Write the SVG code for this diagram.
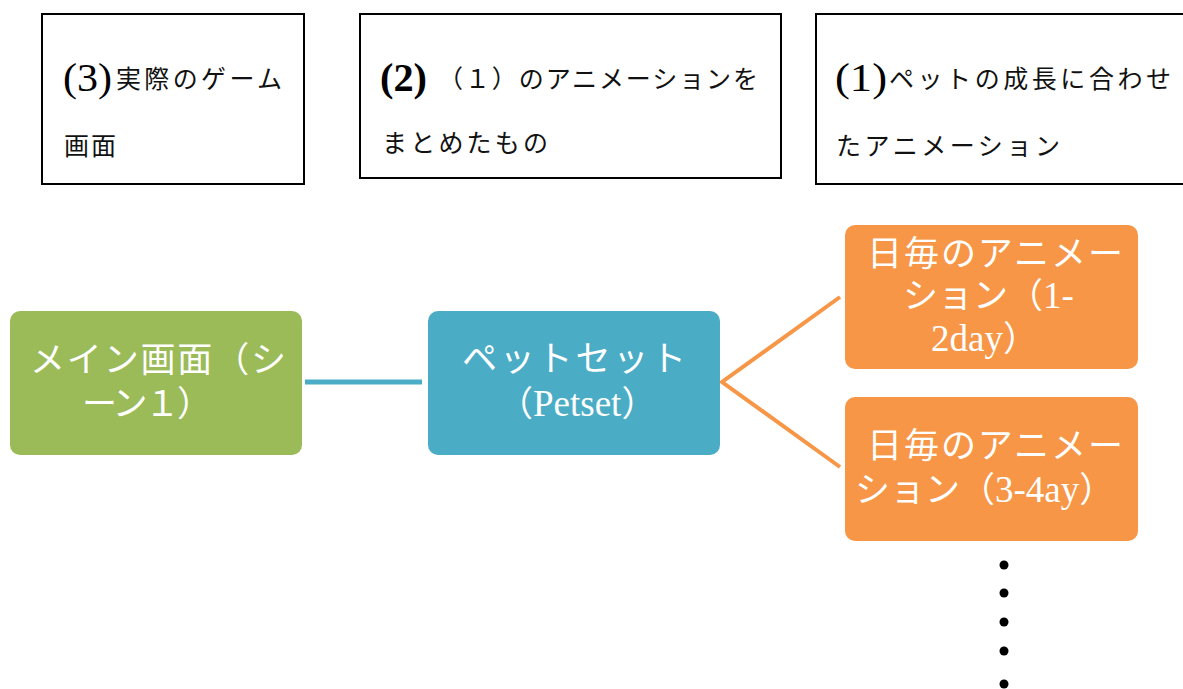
<svg xmlns="http://www.w3.org/2000/svg" width="1183" height="689" viewBox="0 0 1183 689">
<style>
.note{fill:#fff;stroke:#000;stroke-width:2}
.num{font-family:"Liberation Serif","Noto Sans CJK JP",serif;font-size:40px;fill:#000}
.jp{font-family:"Liberation Serif","Noto Sans CJK JP",serif;font-size:25px;fill:#111}
.lbl{font-family:"Liberation Serif","Noto Sans CJK JP",serif;font-size:35px;fill:#fff}
.lat{font-size:37px}
</style>
<rect width="1183" height="689" fill="#fff"/>
<g id="note3">
<rect class="note" x="42" y="14" width="262" height="170"/>
<text class="num" x="63" y="91" textLength="49" lengthAdjust="spacingAndGlyphs">(3)</text>
<text class="jp" x="116" y="88" textLength="166">実際のゲーム</text>
<text class="jp" x="64" y="155" textLength="52">画面</text>
</g>
<g id="note2">
<rect class="note" x="360" y="14" width="421" height="164"/>
<text class="num" x="380" y="91" font-weight="bold" textLength="47" lengthAdjust="spacingAndGlyphs">(2)</text>
<text class="jp" x="438" y="88" textLength="320">（１）のアニメーションを</text>
<text class="jp" x="382" y="152" textLength="166">まとめたもの</text>
</g>
<g id="note1">
<rect class="note" x="816" y="14" width="380" height="170"/>
<text class="num" x="835" y="91" textLength="52" lengthAdjust="spacingAndGlyphs">(1)</text>
<text class="jp" x="889" y="88" textLength="282">ペットの成長に合わせ</text>
<text class="jp" x="836" y="155" textLength="224">たアニメーション</text>
</g>
<g id="connectors">
<line x1="305" y1="382" x2="422" y2="382" stroke="#4BACC6" stroke-width="5"/>
<polyline points="840,297 722,382 840,467" fill="none" stroke="#F79646" stroke-width="4"/>
</g>
<g id="main">
<rect x="10" y="311" width="292" height="144" rx="10" fill="#9BBB59"/>
<text class="lbl" x="30" y="372" textLength="256">メイン画面（シ</text>
<text class="lbl" x="82" y="416" textLength="130">ーン１）</text>
</g>
<g id="petset">
<rect x="428" y="311" width="292" height="144" rx="10" fill="#4BACC6"/>
<text class="lbl" x="462" y="371" textLength="224">ペットセット</text>
<text class="lbl" x="498" y="416">（<tspan class="lat">Petset</tspan>）</text>
</g>
<g id="anim1">
<rect x="845" y="225" width="293" height="144" rx="10" fill="#F79646"/>
<text class="lbl" x="867" y="266" textLength="256">日毎のアニメー</text>
<text class="lbl" x="903" y="308">ション（<tspan class="lat">1-</tspan></text>
<text class="lbl" x="931" y="351"><tspan class="lat">2day</tspan>）</text>
</g>
<g id="anim2">
<rect x="845" y="397" width="293" height="144" rx="10" fill="#F79646"/>
<text class="lbl" x="867" y="458" textLength="256">日毎のアニメー</text>
<text class="lbl" x="855" y="502">ション（<tspan class="lat">3-4ay</tspan>）</text>
</g>
<g id="ellipsis" fill="#000">
<circle cx="1004" cy="565" r="4.5"/>
<circle cx="1004" cy="593" r="4.5"/>
<circle cx="1004" cy="622" r="4.5"/>
<circle cx="1004" cy="651" r="4.5"/>
<circle cx="1004" cy="684" r="4.5"/>
</g>
</svg>
